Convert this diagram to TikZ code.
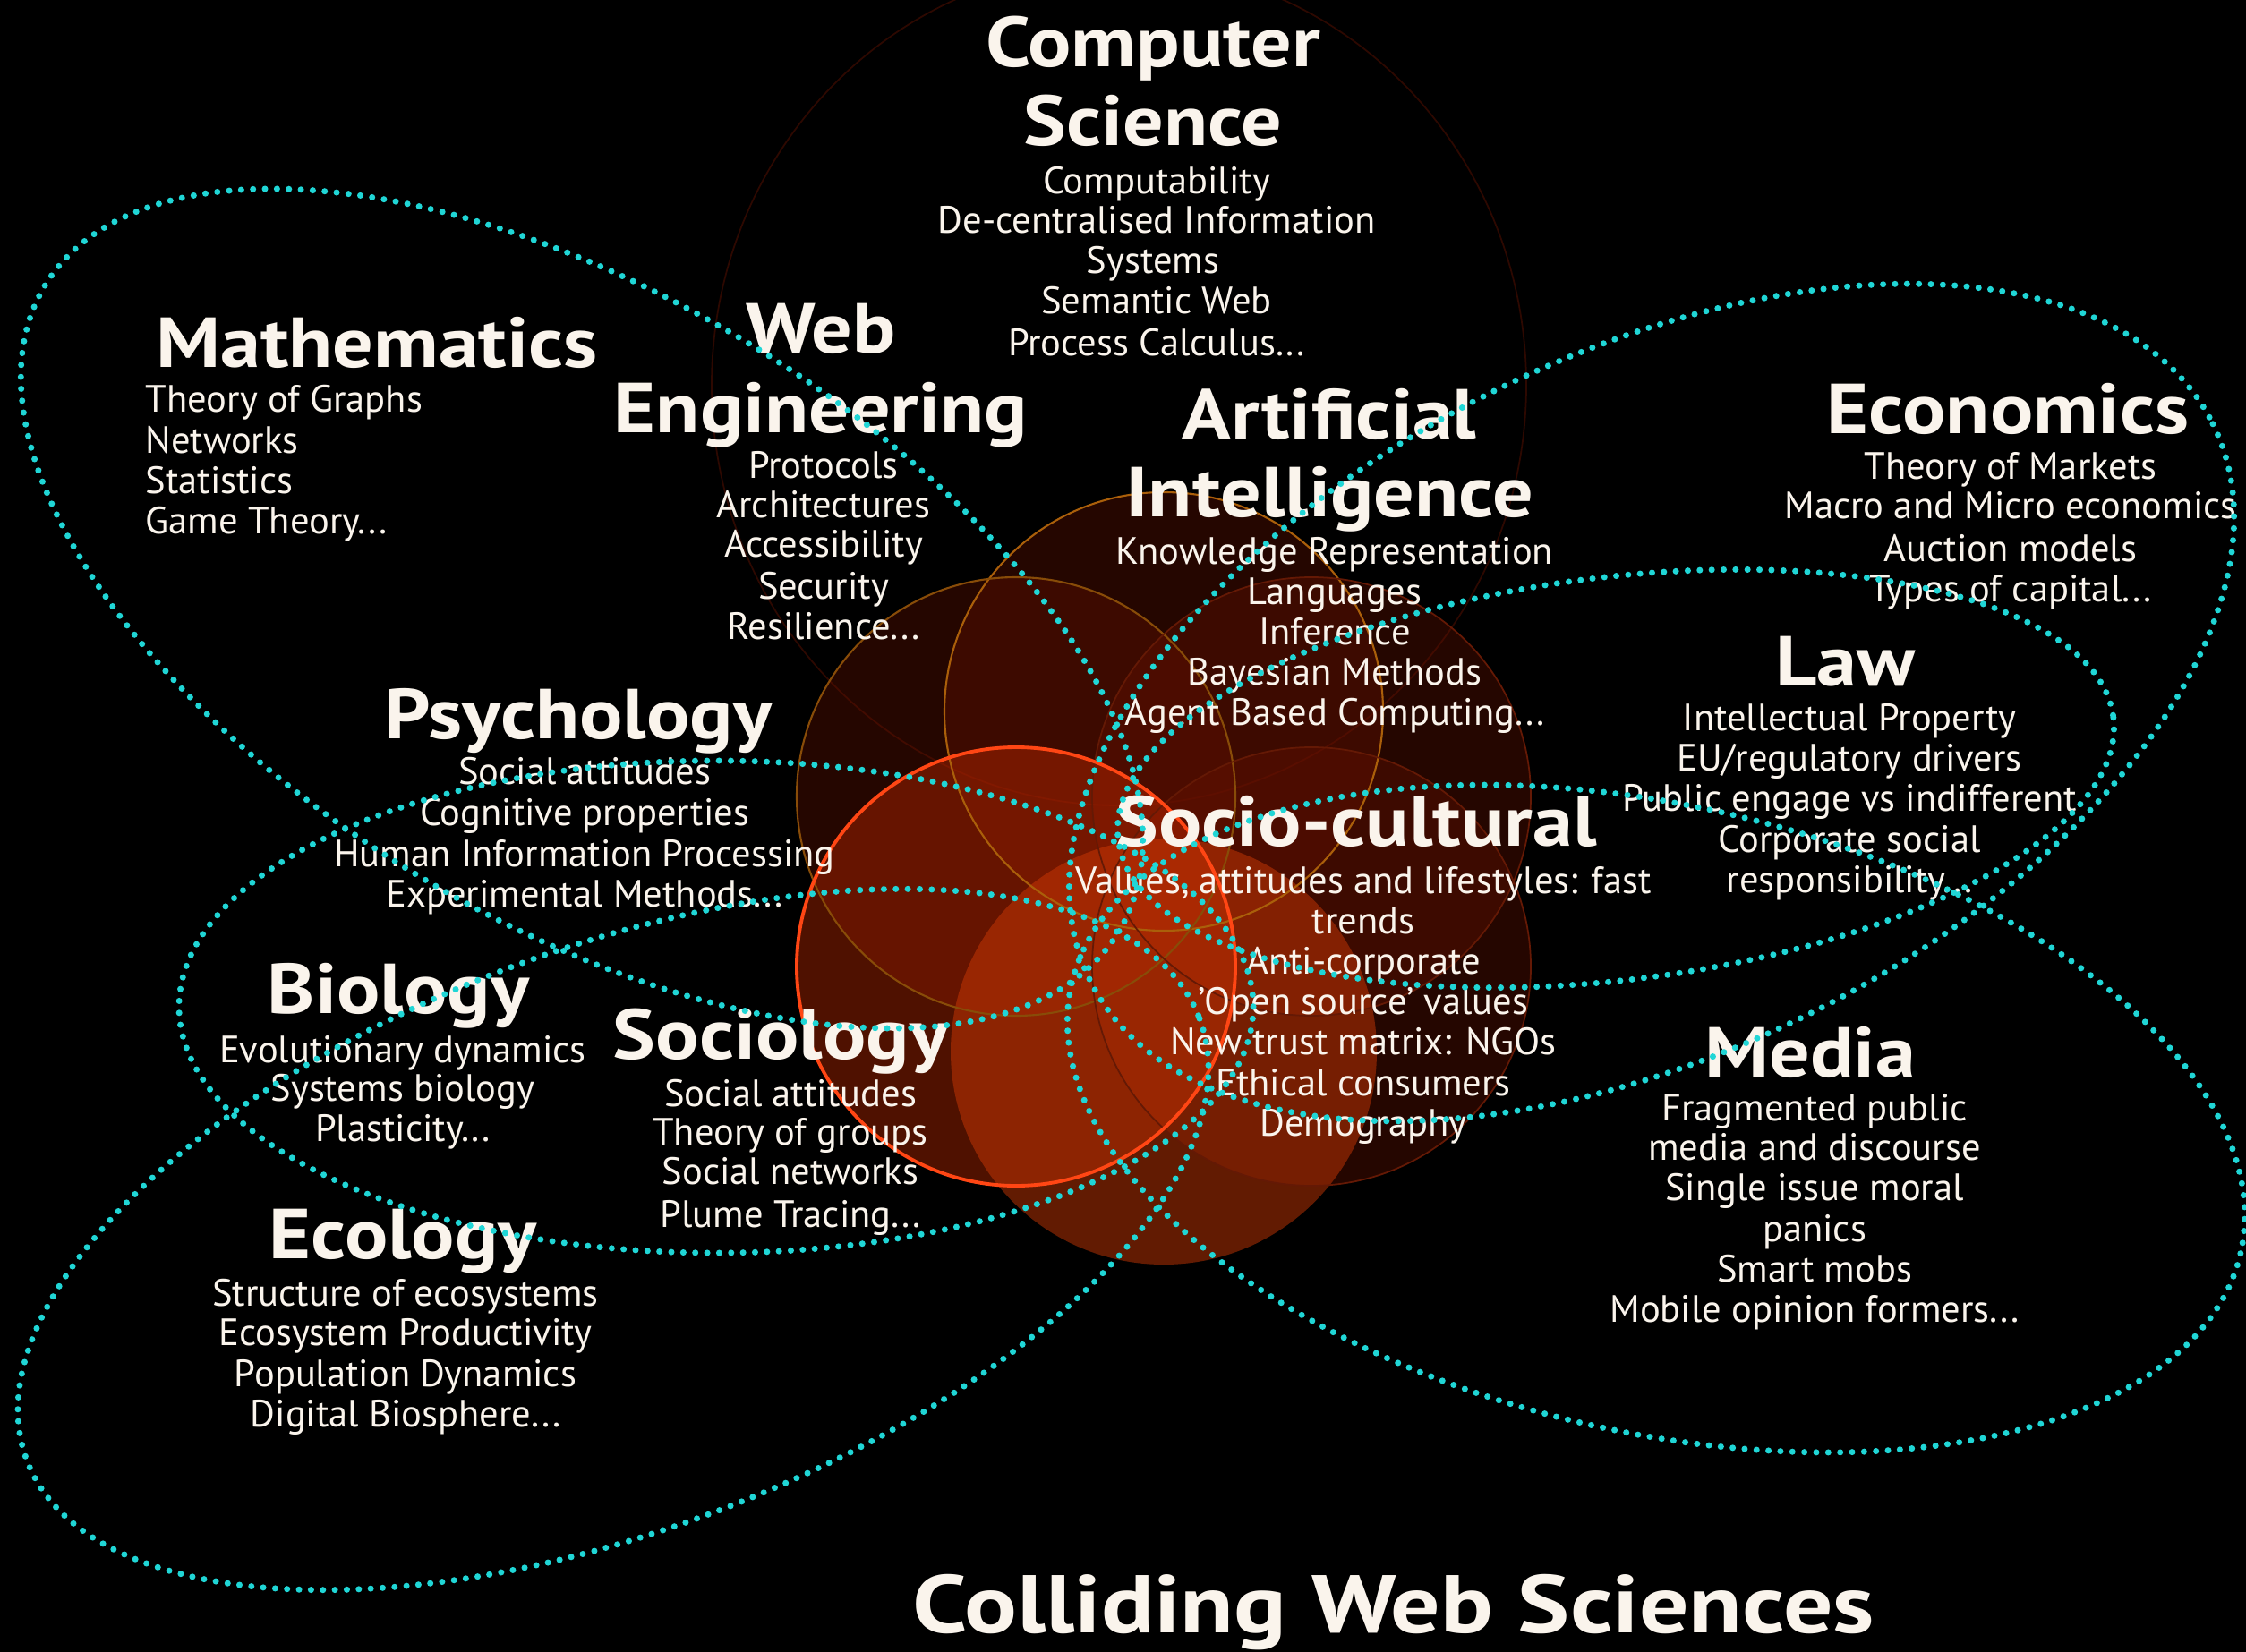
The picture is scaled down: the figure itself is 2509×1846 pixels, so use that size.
\documentclass[tikz,border=0pt]{standalone}
\usepackage{fontspec}
\setmainfont{PT Sans}
\newfontfamily\headfont{PT Sans}[FakeStretch=1.14]
\definecolor{cyandot}{RGB}{32,214,214}
\definecolor{txt}{RGB}{250,244,236}
\definecolor{darkfill}{RGB}{105,18,0}
\definecolor{redfill}{RGB}{210,45,0}
\definecolor{orangefill}{RGB}{215,60,5}
\definecolor{goldline}{RGB}{170,95,10}
\definecolor{brightline}{RGB}{255,70,20}
\definecolor{dimline}{RGB}{100,25,5}
\definecolor{faintline}{RGB}{45,8,0}
\begin{document}
\begin{tikzpicture}[x=0.1mm,y=-0.1mm,
  petal/.style={draw=cyandot, line width=2pt, line cap=round, dash pattern=on 0pt off 3.8pt},
  head/.style={text=txt, font=\headfont\fontsize{22.5}{25}\selectfont\bfseries, anchor=base, inner sep=0pt},
  item/.style={text=txt, font=\fontsize{12.1}{13}\selectfont, anchor=base, inner sep=0pt},
  itemw/.style={item, anchor=base west},
  blob/.style={fill=darkfill, fill opacity=0.36},
]
\fill[black] (0,0) rectangle (2509,1846);
\useasboundingbox (0,0) rectangle (2509,1846);

% faint circle around Computer Science
\draw[faintline, line width=0.5pt] (1250,430) ellipse [x radius=455, y radius=470];

% flower of six circles
\fill[blob] (1300,795) circle [radius=245];
\fill[blob] (1135,890) circle [radius=245];
\fill[blob] (1465,890) circle [radius=245];
\fill[blob] (1465,1080) circle [radius=245];
\fill[fill=redfill, fill opacity=0.38] (1135,1080) circle [radius=245];
\fill[fill=orangefill, fill opacity=0.46] (1300,1175) circle [radius=238];
\draw[goldline, line width=0.6pt] (1300,795) circle [radius=245];
\draw[goldline!80!black, line width=0.6pt] (1135,890) circle [radius=245];
\draw[dimline, line width=0.5pt] (1465,890) circle [radius=245];
\draw[dimline, line width=0.5pt] (1465,1080) circle [radius=245];
\draw[brightline, line width=1.1pt] (1135,1080) circle [radius=245];

% text
\node[head] (cs1) at (1288,75) {Computer};
\node[head] (cs2) at (1288,163) {Science};
\node[item] (cs3) at (1292,216) {Computability};
\node[item] (cs4) at (1292,261) {De-centralised Information};
\node[item] (cs5) at (1288,306) {Systems};
\node[item] (cs6) at (1292,350) {Semantic Web};
\node[item] (cs7) at (1292,397) {Process Calculus...};

\node[head] (ma1) at (421,410) {Mathematics};
\node[itemw] (ma2) at (162,460) {Theory of Graphs};
\node[itemw] (ma3) at (162,506) {Networks};
\node[itemw] (ma4) at (162,551) {Statistics};
\node[itemw] (ma5) at (162,596) {Game Theory...};

\node[head] (we1) at (917,394) {Web};
\node[head] (we2) at (917,483) {Engineering};
\node[item] (we3) at (920,534) {Protocols};
\node[item] (we4) at (920,578) {Architectures};
\node[item] (we5) at (920,622) {Accessibility};
\node[item] (we6) at (920,669) {Security};
\node[item] (we7) at (920,714) {Resilience...};

\node[head] (ai1) at (1485,490) {Artificial};
\node[head] (ai2) at (1485,577) {Intelligence};
\node[item] (ai3) at (1491,630) {Knowledge Representation};
\node[item] (ai4) at (1491,675) {Languages};
\node[item] (ai5) at (1491,720) {Inference};
\node[item] (ai6) at (1491,765) {Bayesian Methods};
\node[item] (ai7) at (1491,810) {Agent Based Computing...};

\node[head] (ec1) at (2243,484) {Economics};
\node[item] (ec2) at (2246,535) {Theory of Markets};
\node[item] (ec3) at (2246,579) {Macro and Micro economics};
\node[item] (ec4) at (2246,627) {Auction models};
\node[item] (ec5) at (2246,672) {Types of capital...};

\node[head] (la1) at (2061,766) {Law};
\node[item] (la2) at (2066,816) {Intellectual Property};
\node[item] (la3) at (2066,861) {EU/regulatory drivers};
\node[item] (la4) at (2066,906) {Public engage vs indifferent};
\node[item] (la5) at (2066,952) {Corporate social};
\node[item] (la6) at (2066,997) {responsibility...};

\node[head] (ps1) at (646,825) {Psychology};
\node[item] (ps2) at (653,876) {Social attitudes};
\node[item] (ps3) at (653,922) {Cognitive properties};
\node[item] (ps4) at (653,968) {Human Information Processing};
\node[item] (ps5) at (653,1013) {Experimental Methods...};

\node[head] (so1) at (1515,945) {Socio-cultural};
\node[item] (so2) at (1523,998) {Values, attitudes and lifestyles: fast};
\node[item] (so3) at (1523,1043) {trends};
\node[item] (so4) at (1523,1088) {Anti-corporate};
\node[item] (so5) at (1523,1133) {'Open source' values};
\node[item] (so6) at (1523,1178) {New trust matrix: NGOs};
\node[item] (so7) at (1523,1224) {Ethical consumers};
\node[item] (so8) at (1523,1269) {Demography};

\node[head] (bi1) at (445,1132) {Biology};
\node[item] (bi2) at (450,1187) {Evolutionary dynamics};
\node[item] (bi3) at (450,1230) {Systems biology};
\node[item] (bi4) at (450,1275) {Plasticity...};

\node[head] (sc1) at (872,1183) {Sociology};
\node[item] (sc2) at (883,1236) {Social attitudes};
\node[item] (sc3) at (883,1279) {Theory of groups};
\node[item] (sc4) at (883,1323) {Social networks};
\node[item] (sc5) at (883,1371) {Plume Tracing...};

\node[head] (eo1) at (450,1406) {Ecology};
\node[item] (eo2) at (453,1459) {Structure of ecosystems};
\node[item] (eo3) at (453,1503) {Ecosystem Productivity};
\node[item] (eo4) at (453,1549) {Population Dynamics};
\node[item] (eo5) at (453,1594) {Digital Biosphere...};

\node[head] (me1) at (2022,1203) {Media};
\node[item] (me2) at (2027,1252) {Fragmented public};
\node[item] (me3) at (2027,1296) {media and discourse};
\node[item] (me4) at (2027,1341) {Single issue moral};
\node[item] (me5) at (2027,1387) {panics};
\node[item] (me6) at (2027,1432) {Smart mobs};
\node[item] (me7) at (2027,1477) {Mobile opinion formers...};

\node[text=txt, anchor=base, inner sep=0pt, font=\fontsize{26}{28}\selectfont\bfseries] (title) at (1557,1824) {\scalebox{1.2}[1]{Colliding Web Sciences}};

% dotted petals
\draw[petal, rotate around={-31:(650,680)}] (650,680) ellipse [x radius=700, y radius=350];
\draw[petal, rotate around={26.4:(1845,785)}] (1845,785) ellipse [x radius=700, y radius=390];
\draw[petal, rotate around={7:(1805,870)}] (1805,870) ellipse [x radius=560, y radius=225];
\draw[petal, rotate around={-13:(1850,1250)}] (1850,1250) ellipse [x radius=670, y radius=350];
\draw[petal, rotate around={20.65:(685,1385)}] (685,1385) ellipse [x radius=700, y radius=325];
\draw[petal] (800,1125) ellipse [x radius=600, y radius=275];
\end{tikzpicture}
\end{document}
